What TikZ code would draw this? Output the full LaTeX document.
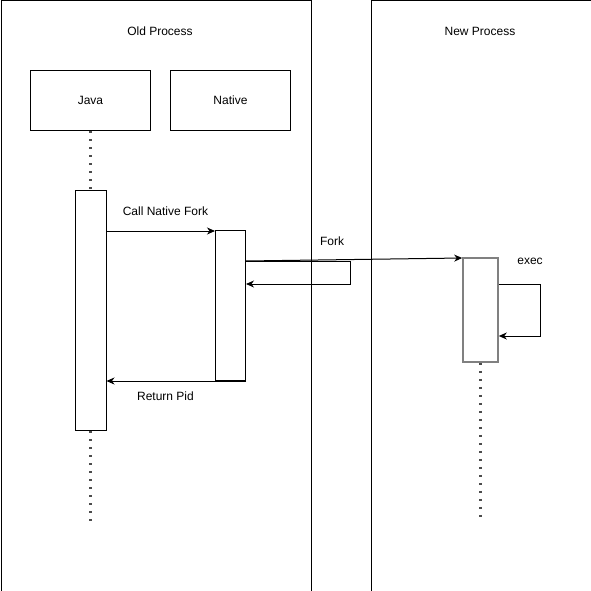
\documentclass[tikz,border=0pt]{standalone}
\usepackage{fontspec}
\setmainfont{Liberation Sans}
\usetikzlibrary{arrows.meta}
\begin{document}
\begin{tikzpicture}[x=1pt,y=-1pt,
  font=\fontsize{12pt}{14pt}\selectfont,
  lane/.style={draw, line width=1pt, inner sep=0, anchor=north west},
  box/.style={draw, line width=1pt, inner sep=0, minimum width=120pt, minimum height=60pt},
  act/.style={draw, fill=white, line width=1pt, inner sep=0},
  gact/.style={draw=gray, fill=white, line width=1.6pt, inner sep=0},
  lifeline/.style={line width=2.2pt, dash pattern=on 2.2pt off 5.8pt, black!70},
  arr/.style={-{Stealth[length=8pt,width=7pt,inset=2.5pt]}, line width=1pt},
  lbl/.style={inner sep=0}]
\useasboundingbox (0,0) rectangle (591,591);
% lanes
\node[lane, minimum width=310pt, minimum height=590pt] (old) at (0.5,0.5) {};
\node[lane, minimum width=220pt, minimum height=590pt] (new) at (370.5,0.5) {};
\node[lbl] (oldt) at (160,31) {Old Process};
\node[lbl] (newt) at (480,31) {New Process};
% heads
\node[box] (java) at (90.5,100.5) {Java};
\node[box] (native) at (230.5,100.5) {Native};
% activations
\node[act, minimum width=31pt, minimum height=240pt] (jact) at (90.5,310.5) {};
\node[act, minimum width=30pt, minimum height=150pt] (nact) at (230.5,305.5) {};
\node[gact, minimum width=35pt, minimum height=104pt] (xact) at (480.5,310) {};
% lifelines
\coordinate (jend) at (90.5,521);
\coordinate (xend) at (480.5,521);
\draw[lifeline] (java.south) -- (jact.north);
\draw[lifeline] (jact.south) -- (jend);
\draw[lifeline] (xact.south) -- (xend);
% connection points
\coordinate (c1) at (jact.east |- 0,231);
\coordinate (c2) at (nact.west |- 0,231);
\coordinate (f1) at (nact.east |- 0,261);
\coordinate (f2) at (xact.west |- 0,258);
\coordinate (r1) at (350.5,261);
\coordinate (r2) at (350.5,284);
\coordinate (r3) at (nact.east |- 0,284);
\coordinate (e1) at (xact.east |- 0,284);
\coordinate (e2) at (540.5,284);
\coordinate (e3) at (540.5,336);
\coordinate (e4) at (xact.east |- 0,336);
\coordinate (p1) at (nact.south east);
\coordinate (p2) at (jact.east |- nact.south);
% connectors
\draw[arr] (c1) -- (c2);
\draw[arr] (f1) -- (f2);
\draw[arr] (f1) -- (r1) -- (r2) -- (r3);
\draw[arr] (e1) -- (e2) -- (e3) -- (e4);
\draw[arr] (p1) -- (p2);
% labels
\node[lbl] (lcall) at (165.5,211) {Call Native Fork};
\node[lbl] (lfork) at (332,241) {Fork};
\node[lbl] (lexec) at (530,261) {exec};
\node[lbl] (lret) at (165.5,396) {Return Pid};
\end{tikzpicture}
\end{document}
